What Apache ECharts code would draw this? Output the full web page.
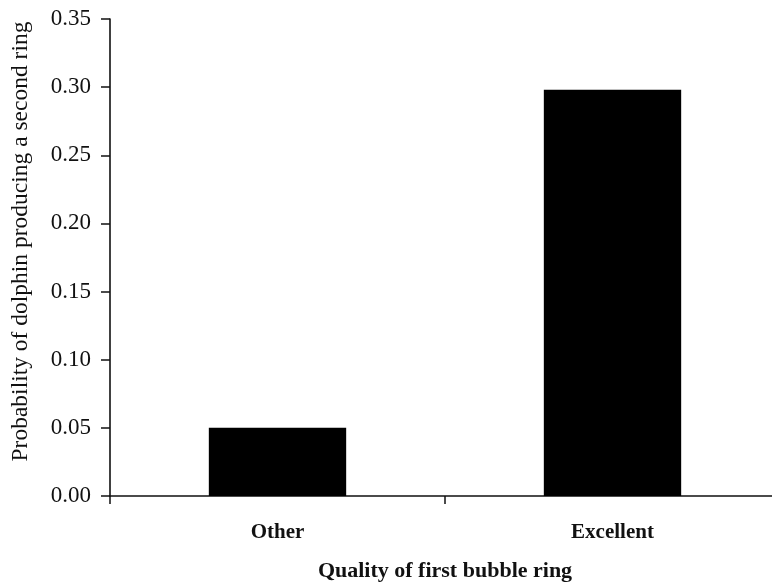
<!DOCTYPE html>
<html>
<head>
<meta charset="utf-8">
<script src="https://cdn.jsdelivr.net/npm/echarts@6/dist/echarts.min.js"></script>
<style>html,body{margin:0;padding:0;background:#fff}#c{width:772px;height:582px}</style>
</head>
<body>
<div id="c"></div>
<script>
const categories = ["Other", "Excellent"];
const probabilities = [0.050, 0.298];
const yTicks = { min: 0, max: 0.35, interval: 0.05 };
const xTitle = "Quality of first bubble ring";
const yTitle = "Probability of dolphin producing a second ring";

const font = "'Liberation Serif', 'DejaVu Serif', serif";
const chart = echarts.init(document.getElementById('c'));
chart.setOption({
  backgroundColor: '#fff',
  animation: false,
  grid: { left: 110, right: -8, top: 19, bottom: 86, outerBoundsMode: 'none', containLabel: false },
  xAxis: {
    type: 'category',
    data: categories,
    boundaryGap: true,
    name: xTitle,
    nameLocation: 'middle',
    nameGap: 64,
    nameTextStyle: { fontFamily: font, fontSize: 22, fontWeight: 'bold', color: '#111' },
    axisLine: { lineStyle: { color: '#111', width: 1.6 } },
    axisTick: { show: true, length: 8, lineStyle: { color: '#111', width: 1.5 } },
    axisLabel: { fontFamily: font, fontSize: 21, fontWeight: 'bold', color: '#111', margin: 26 },
    splitLine: { show: false }
  },
  yAxis: {
    type: 'value',
    min: yTicks.min,
    max: yTicks.max,
    interval: yTicks.interval,
    name: yTitle,
    nameLocation: 'middle',
    nameGap: 77,
    nameTextStyle: { fontFamily: font, fontSize: 23.5, color: '#111', padding: [0, 0, 0, 32] },
    axisLine: { show: true, lineStyle: { color: '#111', width: 1.6 } },
    axisTick: { show: true, length: 9, lineStyle: { color: '#111', width: 1.5 } },
    axisLabel: { fontFamily: font, fontSize: 23, color: '#111', margin: 19,
      formatter: v => v.toFixed(2) },
    splitLine: { show: false }
  },
  series: [{
    type: 'bar',
    data: probabilities,
    barWidth: '41%',
    itemStyle: { color: '#000' }
  }]
});
</script>
</body>
</html>
